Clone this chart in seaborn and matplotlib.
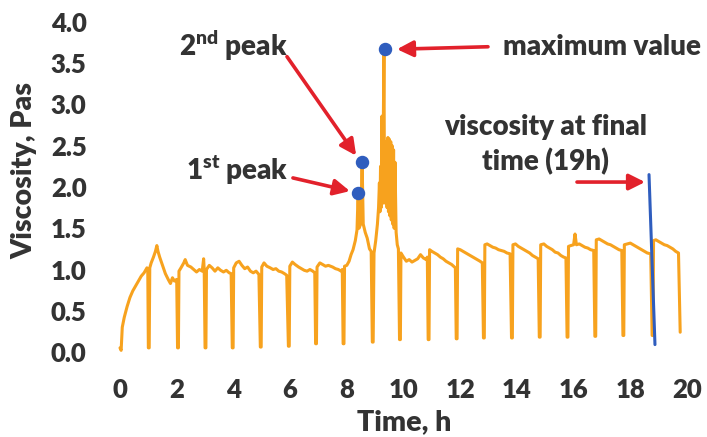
import matplotlib
matplotlib.use("Agg")
import matplotlib.pyplot as plt
import seaborn as sns
import pandas as pd

# ---- data ----
time_h = [
    0.00, 0.04, 0.08, 0.15, 0.25, 0.35, 0.45, 0.55, 0.65, 0.75, 0.85, 0.95, 0.98,
    1.00, 1.03, 1.05,
    1.10, 1.18, 1.25, 1.30, 1.34, 1.40, 1.50, 1.60, 1.70, 1.78, 1.85, 1.92, 2.00,
    2.03, 2.06, 2.08,
    2.15, 2.25, 2.30, 2.38, 2.50, 2.60, 2.70, 2.80, 2.90, 2.95, 2.97,
    3.00, 3.03, 3.05,
    3.15, 3.25, 3.35, 3.45, 3.55, 3.65, 3.75, 3.85, 3.92,
    3.96, 3.99, 4.01,
    4.10, 4.20, 4.30, 4.40, 4.50, 4.60, 4.70, 4.80, 4.90,
    4.95, 4.98, 5.00,
    5.08, 5.18, 5.30, 5.40, 5.50, 5.60, 5.70, 5.80, 5.88,
    5.94, 5.97, 5.99,
    6.08, 6.18, 6.30, 6.40, 6.50, 6.60, 6.70, 6.80, 6.87,
    6.90, 6.93, 6.95,
    7.05, 7.15, 7.25, 7.35, 7.50, 7.60, 7.70, 7.80, 7.84,
    7.87, 7.90, 7.92,
    8.00, 8.08, 8.15, 8.22, 8.30, 8.36, 8.40, 8.43, 8.49, 8.54, 8.58, 8.65, 8.72, 8.80, 8.86,
    8.90, 8.93, 8.96,
    9.02, 9.08, 9.12, 9.15, 9.17, 9.19, 9.21, 9.24, 9.26, 9.28, 9.31, 9.33, 9.35, 9.37,
    9.40, 9.42, 9.45, 9.47, 9.50, 9.52, 9.55, 9.57, 9.60, 9.62, 9.65, 9.67, 9.70, 9.74, 9.78, 9.82,
    9.86, 9.89, 9.91,
    10.0, 10.1, 10.2, 10.3, 10.4, 10.5, 10.6, 10.7, 10.8, 10.84,
    10.87, 10.90, 10.92,
    11.0, 11.1, 11.2, 11.3, 11.4, 11.5, 11.6, 11.7, 11.8, 11.83,
    11.86, 11.89, 11.91,
    12.0, 12.1, 12.2, 12.3, 12.4, 12.5, 12.6, 12.7, 12.78,
    12.82, 12.85, 12.87,
    12.95, 13.05, 13.15, 13.25, 13.35, 13.45, 13.55, 13.65, 13.76,
    13.81, 13.84, 13.86,
    13.95, 14.05, 14.15, 14.25, 14.35, 14.45, 14.55, 14.65, 14.75,
    14.79, 14.82, 14.84,
    14.95, 15.05, 15.15, 15.25, 15.35, 15.45, 15.55, 15.65, 15.73,
    15.77, 15.80, 15.82,
    15.90, 16.00, 16.05, 16.10, 16.20, 16.30, 16.40, 16.50, 16.60, 16.71,
    16.75, 16.78, 16.80,
    16.90, 17.00, 17.10, 17.20, 17.30, 17.40, 17.50, 17.60, 17.70,
    17.74, 17.77, 17.79,
    17.90, 18.00, 18.10, 18.20, 18.30, 18.40, 18.50, 18.60, 18.72,
    18.77, 18.80, 18.82,
    18.90, 19.00, 19.10, 19.20, 19.30, 19.40, 19.50, 19.60, 19.70,
    19.76,
]
viscosity = [
    0.05, 0.02, 0.30, 0.42, 0.55, 0.66, 0.74, 0.80, 0.86, 0.92, 0.96, 1.02, 0.98,
    0.05, 0.05, 1.02,
    1.08, 1.15, 1.22, 1.29, 1.22, 1.15, 1.05, 0.95, 0.88, 0.83, 0.90, 0.86, 0.88,
    0.05, 0.05, 0.98,
    1.02, 1.08, 1.12, 1.05, 1.03, 1.00, 0.97, 1.00, 0.98, 1.13, 1.00,
    0.05, 0.05, 1.00,
    1.05, 1.02, 0.98, 1.02, 0.99, 0.97, 0.99, 0.96, 0.95,
    0.05, 0.05, 1.02,
    1.08, 1.10, 1.05, 1.01, 1.03, 0.98, 0.96, 0.98, 0.94,
    0.06, 0.06, 1.03,
    1.08, 1.04, 1.02, 1.00, 1.01, 0.98, 0.97, 0.95, 0.93,
    0.07, 0.07, 1.04,
    1.09, 1.06, 1.03, 1.01, 0.99, 0.98, 1.00, 0.98, 0.96,
    0.10, 0.10, 1.03,
    1.08, 1.06, 1.04, 1.05, 1.03, 1.01, 1.00, 0.98, 1.00,
    0.10, 0.10, 1.04,
    1.05, 1.10, 1.18, 1.24, 1.35, 1.48, 1.93, 1.50, 1.55, 2.30, 1.55, 1.45, 1.38, 1.25, 1.22,
    0.12, 0.12, 1.20,
    1.35, 1.55, 1.75, 2.05, 1.70, 2.25, 1.75, 2.86, 1.80, 2.40, 3.67, 1.85, 2.45, 1.80,
    2.55, 1.75, 2.60, 1.70, 2.58, 1.65, 2.55, 1.60, 2.50, 1.55, 2.45, 1.50, 2.30, 1.45, 1.30, 1.25,
    0.15, 0.15, 1.20,
    1.15, 1.10, 1.12, 1.09, 1.11, 1.13, 1.18, 1.14, 1.12, 1.15,
    0.15, 0.15, 1.24,
    1.22, 1.20, 1.18, 1.15, 1.13, 1.10, 1.08, 1.06, 1.03, 1.02,
    0.16, 0.16, 1.25,
    1.24, 1.22, 1.20, 1.18, 1.16, 1.14, 1.12, 1.10, 1.08,
    0.17, 0.17, 1.30,
    1.31, 1.29, 1.27, 1.26, 1.24, 1.23, 1.22, 1.20, 1.19,
    0.17, 0.17, 1.30,
    1.31, 1.28, 1.26, 1.24, 1.22, 1.20, 1.17, 1.15, 1.13,
    0.18, 0.18, 1.30,
    1.31, 1.28, 1.26, 1.24, 1.21, 1.20, 1.17, 1.15, 1.14,
    0.18, 0.18, 1.28,
    1.29, 1.30, 1.43, 1.30, 1.31, 1.29, 1.27, 1.26, 1.24, 1.23,
    0.19, 0.19, 1.36,
    1.37, 1.35, 1.33, 1.31, 1.30, 1.28, 1.26, 1.24, 1.23,
    0.20, 0.20, 1.30,
    1.31, 1.32, 1.30, 1.28, 1.26, 1.24, 1.22, 1.20, 1.19,
    0.20, 0.20, 1.35,
    1.36, 1.34, 1.32, 1.30, 1.29, 1.27, 1.25, 1.22, 1.20,
    0.24,
]

peak_times = [8.40, 8.54, 9.35]
peak_values = [1.93, 2.30, 3.67]

final_line_t = [18.66, 18.87]
final_line_v = [2.15, 0.09]

x_ticks = list(range(0, 21, 2))
y_ticks = [0.0, 0.5, 1.0, 1.5, 2.0, 2.5, 3.0, 3.5, 4.0]

# ---- styling ----
sns.set_theme(style="white")
plt.rcParams["font.family"] = ["Lato", "DejaVu Sans"]
plt.rcParams["font.weight"] = "heavy"
plt.rcParams["mathtext.fontset"] = "custom"
plt.rcParams["mathtext.bf"] = "Lato:heavy"
plt.rcParams["mathtext.rm"] = "Lato:heavy"

TXT = "#333333"
ORANGE = "#F7A21E"
BLUE = "#2F5DBE"
RED = "#E2212B"
W = "heavy"

fig = plt.figure(figsize=(7.07, 4.37), dpi=100)
ax = fig.add_axes([120 / 707, (437 - 352) / 437, 567 / 707, 330 / 437])

df = pd.DataFrame({"t": time_h, "v": viscosity})
sns.lineplot(data=df, x="t", y="v", sort=False, estimator=None, ax=ax,
             color=ORANGE, lw=2.2, clip_on=False)

ax.plot(final_line_t, final_line_v, color=BLUE, lw=2.2, clip_on=False, zorder=4)
ax.scatter(peak_times, peak_values, s=75, color=BLUE, zorder=5, clip_on=False)

ax.set_xlim(0, 20)
ax.set_ylim(0, 4)
ax.set_xticks(x_ticks)
ax.set_yticks(y_ticks)
ax.set_yticklabels([f"{v:.1f}" for v in y_ticks])
ax.tick_params(axis="both", length=0, labelsize=18.5, colors=TXT)
ax.tick_params(axis="x", pad=19)
ax.tick_params(axis="y", pad=24)
for lbl in ax.get_xticklabels() + ax.get_yticklabels():
    lbl.set_fontweight(W)
for s in ax.spines.values():
    s.set_visible(False)
ax.set_xlabel("")
ax.set_ylabel("")

fig.text(404 / 707, 1 - 422 / 437, "Time, h", ha="center", va="center",
         fontsize=20.5, fontweight=W, color=TXT)
fig.text(24 / 707, 1 - 170 / 437, "Viscosity, Pas", ha="center", va="center",
         rotation=90, fontsize=20.5, fontweight=W, color=TXT)

arrow = dict(arrowstyle="-|>", color=RED, lw=2.6, mutation_scale=24,
             shrinkA=0, shrinkB=0)
ann_fs = 20

ax.text(3.99, 3.72, r"2$^{\mathbf{nd}}$ peak", ha="center", va="center",
        fontsize=ann_fs, fontweight=W, color=TXT)
ax.annotate("", xy=(8.33, 2.38), xytext=(5.89, 3.58), arrowprops=arrow)

ax.text(4.13, 2.21, r"1$^{\mathbf{st}}$ peak", ha="center", va="center",
        fontsize=ann_fs, fontweight=W, color=TXT)
ax.annotate("", xy=(8.11, 1.95), xytext=(6.10, 2.11), arrowprops=arrow)

ax.text(17.0, 3.70, "maximum value", ha="center", va="center",
        fontsize=ann_fs, fontweight=W, color=TXT)
ax.annotate("", xy=(9.77, 3.67), xytext=(12.98, 3.70), arrowprops=arrow)

ax.text(15.0, 2.51, "viscosity at final\ntime (19h)", ha="center", va="center",
        fontsize=ann_fs, fontweight=W, color=TXT, linespacing=1.35)
ax.annotate("", xy=(18.52, 2.06), xytext=(16.12, 2.06), arrowprops=arrow)

fig.savefig("out.png", dpi=100)
